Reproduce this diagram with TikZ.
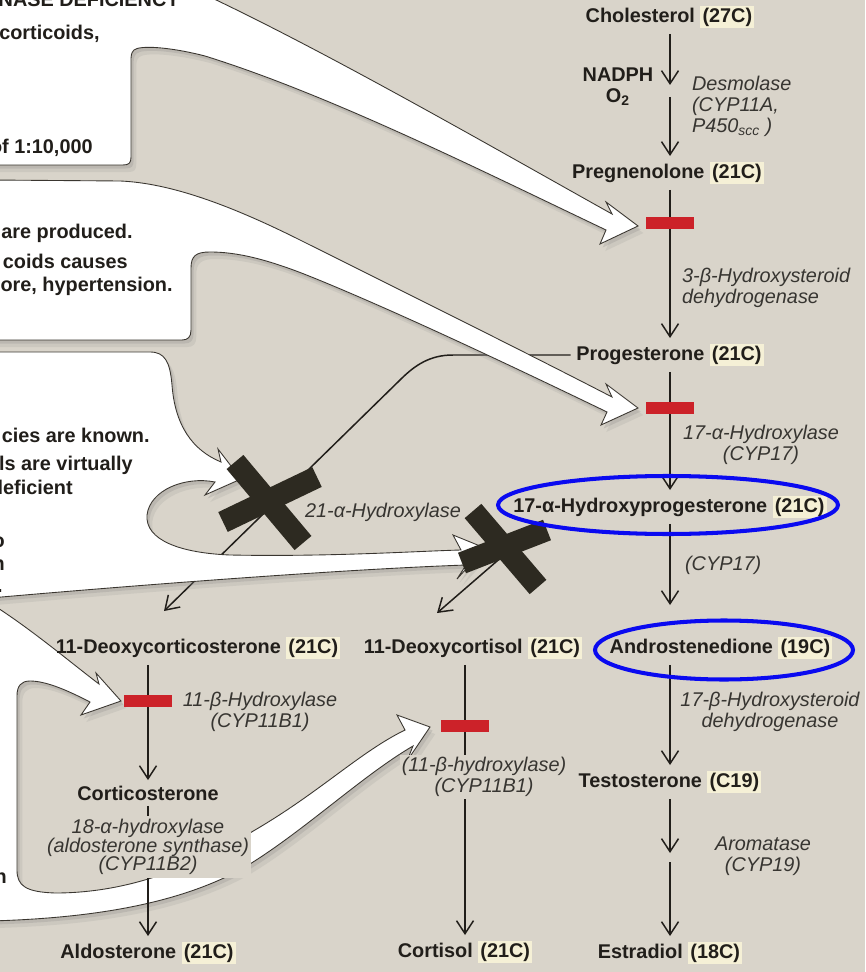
\documentclass[tikz,border=0pt]{standalone}
\usepackage{fontspec}
\setmainfont{Liberation Sans}
\usepackage{xcolor}
\usepackage{tikz}
\usetikzlibrary{arrows.meta, positioning, shapes.geometric, calc, shadows}
\definecolor{fond}{HTML}{D9D4CA}
\definecolor{encre}{HTML}{211E1A}
\definecolor{rouge}{HTML}{CC2229}
\definecolor{bleu}{HTML}{0A0AF0}
\definecolor{croixc}{HTML}{2D2A21}
\definecolor{surligne}{HTML}{F5F0D6}
\definecolor{bord}{HTML}{3A3630}
\setlength{\fboxsep}{1.2pt}
\newcommand{\carb}[1]{\colorbox{surligne}{#1}}
\pgfdeclarelayer{dessous}
\pgfdeclarelayer{bulles}
\pgfsetlayers{dessous,bulles,main}
\tikzset{
  molecule/.style={font=\fontsize{11.3}{12}\selectfont\bfseries, text=encre,
    inner sep=3pt},
  enzyme/.style={font=\fontsize{11.3}{12}\selectfont\itshape, text=encre!90,
    align=center, inner sep=1pt},
  texte/.style={font=\fontsize{11.3}{12}\selectfont\bfseries, text=encre,
    inner sep=0pt, anchor=base east},
  fleche/.style={-{Straight Barb[length=2.6mm, width=3.4mm]}, line width=0.85pt,
    color=encre},
  barre/.style={rectangle, fill=rouge, minimum width=9.6mm, minimum height=2.4mm,
    inner sep=0pt},
  croix/.style={line width=12.5pt, color=croixc},
  anneau/.style={ellipse, draw=bleu, line width=2.3pt, inner sep=0pt},
  bulle/.style={fill=white, draw=bord, line width=0.5pt,
    drop shadow={opacity=0.22, shadow xshift=1.5pt, shadow yshift=-2pt},
    drop shadow={opacity=0.14, shadow xshift=3pt, shadow yshift=-4pt}}
}

\begin{document}
\begin{tikzpicture}[x=0.02cm, y=-0.02cm]
  \useasboundingbox (0,0) rectangle (865,972);
  \begin{pgfonlayer}{dessous}
    \fill[fond] (0,0) rectangle (865,972);
  \end{pgfonlayer}

  % Molecules
  \node[molecule] (chol)  at (670,17)  {Cholesterol \carb{(27C)}};
  \node[molecule] (preg)  at (668,173) {Pregnenolone \carb{(21C)}};
  \node[molecule] (prog)  at (670,355) {Progesterone \carb{(21C)}};
  \node[molecule] (ohp)   at (670,507) {17-α-Hydroxyprogesterone \carb{(21C)}};
  \node[molecule] (andro) at (721,648) {Androstenedione \carb{(19C)}};
  \node[molecule] (testo) at (670,782) {Testosterone \carb{(C19)}};
  \node[molecule] (estra) at (670,953) {Estradiol \carb{(18C)}};
  \node[molecule] (doc)   at (198,648) {11-Deoxycorticosterone \carb{(21C)}};
  \node[molecule] (corti) at (148,793) {Corticosterone};
  \node[molecule] (aldo)  at (148,953) {Aldosterone \carb{(21C)}};
  \node[molecule] (dcol)  at (473,648) {11-Deoxycortisol \carb{(21C)}};
  \node[molecule] (cortisol) at (465,952) {Cortisol \carb{(21C)}};
  \node[molecule, align=center, inner sep=0pt] (nadph) at (618,87) {NADPH\\O\textsubscript{2}};

  % Enzymes
  \node[enzyme, anchor=west, align=left] (desmo) at (690,106) {Desmolase\\(CYP11A,\\P450\textsubscript{scc} )};
  \node[enzyme, anchor=west, align=left] (hsd3) at (680,288) {3-β-Hydroxysteroid\\dehydrogenase};
  \node[enzyme] (cyp17a) at (761,445) {17-α-Hydroxylase\\(CYP17)};
  \node[enzyme, anchor=west] (cyp17b) at (683,565) {(CYP17)};
  \node[enzyme] (hsd17) at (770,712) {17-β-Hydroxysteroid\\dehydrogenase};
  \node[enzyme] (arom) at (763,856) {Aromatase\\(CYP19)};
  \node[enzyme] (cyp11l) at (260,712) {11-β-Hydroxylase\\(CYP11B1)};
  \node[enzyme] (h21) at (383,512) {21-α-Hydroxylase};

  % Texte des encadres (coupe a gauche)
  \node[texte] (t1)  at (180,7)   {NASE DEFICIENCY};
  \node[texte] (t2)  at (100,40)  {corticoids,};
  \node[texte] (t3)  at (93,154)  {of 1:10,000};
  \node[texte] (t4)  at (133,239) {are produced.};
  \node[texte] (t5)  at (128,269) {coids causes};
  \node[texte] (t6)  at (173,292) {ore, hypertension.};
  \node[texte] (t7)  at (150,442) {cies are known.};
  \node[texte] (t8)  at (133,470) {ls are virtually};
  \node[texte] (t9)  at (73,494)  {leficient};
  \node[texte] (t10) at (5,547)   {o};
  \node[texte] (t11) at (5,570)   {n};
  \node[texte] (t12) at (3,592)   {.};
  \node[texte] (t13) at (7,883)   {h};

  % Fleches blanches
  \begin{pgfonlayer}{bulles}
    \draw[bulle] (-10,-10) -- (195,-10) .. controls (320,48) and (485,143) .. (612,214)
      -- (606,202) -- (638,226) -- (600,244) -- (606,230)
      .. controls (480,170) and (330,95) .. (205,56) .. controls (170,47) and (140,45) .. (134,50)
      .. controls (131,53) and (131,56) .. (131,62) -- (131,157)
      .. controls (131,163) and (129,165) .. (123,165) -- (-10,165) -- cycle;
    \draw[bulle] (-10,180) -- (120,181) .. controls (170,183) and (230,205) .. (300,240)
      .. controls (400,290) and (525,352) .. (612,397)
      -- (606,384) -- (638,408) -- (601,425) -- (607,412)
      .. controls (520,370) and (400,313) .. (314,278) .. controls (265,258) and (235,252) .. (210,252)
      .. controls (196,252) and (191,256) .. (191,268) -- (191,330)
      .. controls (191,337) and (188,340) .. (182,340) -- (-10,340) -- cycle;
    \draw[bulle] (-10,352) -- (150,352) .. controls (165,352) and (170,362) .. (172,385)
      .. controls (175,425) and (192,450) .. (221,462)
      -- (218,449) -- (241,479) -- (205,495) -- (215,482)
      .. controls (185,476) and (150,490) .. (147,515) .. controls (145,540) and (180,553) .. (230,555)
      .. controls (330,557) and (420,551) .. (461,550)
      -- (453,535) -- (485,548) -- (457,579) -- (466,565)
      .. controls (350,569) and (150,584) .. (-10,598) -- cycle;
    \draw[bulle] (-10,603) .. controls (30,628) and (70,662) .. (99,684)
      -- (96,673) -- (121,701) -- (81,715) -- (90,702)
      .. controls (65,689) and (45,681) .. (30,681) .. controls (21,681) and (17,686) .. (17,696)
      -- (17,870) .. controls (17,886) and (26,892) .. (55,893)
      .. controls (130,893) and (195,866) .. (255,830) .. controls (320,792) and (360,752) .. (405,730)
      -- (397,715) -- (430,727) -- (407,761) -- (413,746)
      .. controls (360,777) and (300,835) .. (240,870) .. controls (180,902) and (100,918) .. (-10,921) -- cycle;
  \end{pgfonlayer}

  % Voie principale
  \coordinate (d1) at (670,85);
  \coordinate (d2) at (670,97);
  \coordinate (d3) at (670,853);
  \coordinate (d4) at (670,862);
  \draw[fleche] (chol) -- (d1);
  \draw[fleche] (d2) -- (preg.north -| d2);
  \draw[fleche] (preg.south -| prog) -- (prog);
  \draw[fleche] (prog) -- (ohp);
  \draw[fleche, shorten >=0.52cm] (ohp) -- (ohp |- andro.north);
  \draw[fleche] (andro.south -| testo) -- (testo);
  \draw[fleche] (testo) -- (d3);
  \draw[fleche] (d4) -- (estra);

  % Voies laterales
  \draw[fleche] (doc.south -| corti) -- (corti);
  \draw[fleche] (corti) -- (aldo);
  \draw[fleche] (dcol.south -| cortisol) -- (cortisol);
  \coordinate (pointeDC) at ($(dcol.north)+(-36,-18)$);
  \draw[fleche] ($(ohp.south west)+(32,0)$) -- (pointeDC);
  \begin{pgfonlayer}{dessous}
    \coordinate (coude) at (453,355);
    \coordinate (pointeDOC) at ($(doc.north)+(-34,-20)$);
    \draw[fleche] (prog.west) -- (coude) .. controls (430,355) and (415,365) .. (400,380) -- (pointeDOC);
  \end{pgfonlayer}

  % Blocages
  \node[barre] (b1) at (670,223) {};
  \node[barre] (b2) at (670,408) {};
  \node[barre] (b3) at (148,701) {};
  \node[barre] (b4) at (465,726) {};
  \draw[croix] (235,462) -- (303,543);
  \draw[croix] (223,522) -- (317,477);
  \draw[croix] (473,511) -- (538,587);
  \draw[croix] (462,563) -- (547,530);

  \node[enzyme, fill=fond] (cyp11m) at (484,777) {(11-β-hydroxylase)\\(CYP11B1)};
  \node[enzyme, fill=fond, inner ysep=2pt] (cyp11b2) at (148,847) {18-α-hydroxylase\\[-1.5pt](aldosterone synthase)\\[-1.5pt](CYP11B2)};

  % Cercles
  \node[anneau, minimum width=6.8cm, minimum height=1.16cm] (ohpring) at (668,505) {};
  \node[anneau, minimum width=5.16cm, minimum height=1.18cm] (andring) at (724,650) {};
\end{tikzpicture}
\end{document}
